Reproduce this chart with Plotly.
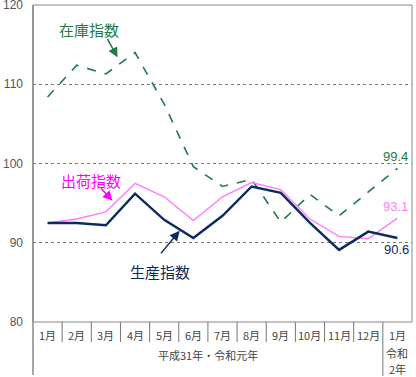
import plotly.graph_objects as go

months = ["1月", "2月", "3月", "4月", "5月", "6月", "7月", "8月", "9月", "10月", "11月", "12月", "1月"]
inventory = [108.4, 112.4, 111.3, 114.0, 107.5, 99.6, 97.1, 98.0, 92.6, 96.1, 93.4, 96.4, 99.4]
shipments = [92.5, 93.0, 93.9, 97.5, 95.8, 92.8, 95.8, 97.6, 96.7, 93.0, 90.8, 90.5, 93.1]
production = [92.5, 92.5, 92.2, 96.2, 92.9, 90.6, 93.4, 97.1, 96.3, 92.5, 89.1, 91.4, 90.6]
y_ticks = [80, 90, 100, 110, 120]
year_label_1 = "平成31年・令和元年"
year_label_2 = ["令和", "2年"]

GREEN = "#1f7a44"
PINK = "#ff7cff"
MAGENTA = "#ff00ff"
NAVY = "#0b2a63"
FONT = "Noto Sans CJK JP"

xs = list(range(len(months)))

fig = go.Figure()
fig.add_trace(go.Scatter(x=xs, y=inventory, mode="lines",
                         line=dict(color=GREEN, width=1.6, dash="dash"), showlegend=False))
fig.add_trace(go.Scatter(x=xs, y=shipments, mode="lines",
                         line=dict(color=PINK, width=1.4), showlegend=False))
fig.add_trace(go.Scatter(x=xs, y=production, mode="lines",
                         line=dict(color=NAVY, width=2.4), showlegend=False))

fig.update_layout(
    width=416, height=377,
    margin=dict(l=33, r=4, t=5, b=55, autoexpand=False),
    paper_bgcolor="white", plot_bgcolor="white",
    font=dict(family=FONT, size=12, color="#444"),
    xaxis=dict(range=[-0.5, 12.5], showticklabels=False, showgrid=False, automargin=False,
               zeroline=False, showline=False, fixedrange=True),
    yaxis=dict(range=[80, 120], tickvals=y_ticks, ticks="", ticklabelstandoff=9,
               automargin=False, ticklabeloverflow="allow",
               showgrid=True, gridcolor="#777", griddash="dot", gridwidth=1,
               zeroline=False, showline=False,
               tickfont=dict(size=12, color="#555", family="Liberation Sans")),
)

shapes = []
# frame
shapes.append(dict(type="rect", xref="paper", yref="paper", x0=0, x1=1, y0=0, y1=1,
                   line=dict(color="#888", width=1)))
# left axis extension
shapes.append(dict(type="line", xref="paper", yref="paper", x0=0, x1=0, y0=-0.167, y1=1,
                   line=dict(color="#888", width=1.5)))
# category separators
for k in range(1, len(months)):
    bottom = -0.17 if k == len(months) - 1 else -0.063
    shapes.append(dict(type="line", xref="x", yref="paper", x0=k - 0.5, x1=k - 0.5,
                       y0=bottom, y1=0, line=dict(color="#777", width=1)))
fig.update_layout(shapes=shapes)

ann = []
for i, m in enumerate(months):
    ann.append(dict(x=i, y=-0.041, xref="x", yref="paper", text=m, showarrow=False,
                    yanchor="middle", font=dict(size=11, color="#444")))
ann.append(dict(x=5.5, y=-0.104, xref="x", yref="paper", text=year_label_1, showarrow=False,
                yanchor="middle", font=dict(size=11, color="#444")))
ann.append(dict(x=12, y=-0.098, xref="x", yref="paper", text=year_label_2[0], showarrow=False,
                yanchor="middle", font=dict(size=11, color="#444")))
ann.append(dict(x=12, y=-0.148, xref="x", yref="paper", text=year_label_2[1], showarrow=False,
                yanchor="middle", font=dict(size=11, color="#444")))

# series name labels
ann.append(dict(x=1.43, y=116.9, xref="x", yref="y", text="在庫指数", showarrow=False,
                yanchor="middle", font=dict(size=15, color=GREEN)))
ann.append(dict(x=1.5, y=97.8, xref="x", yref="y", text="出荷指数", showarrow=False,
                yanchor="middle", font=dict(size=15, color=MAGENTA)))
ann.append(dict(x=3.84, y=86.4, xref="x", yref="y", text="生産指数", showarrow=False,
                yanchor="middle", font=dict(size=15, color=NAVY)))
# arrows
ann.append(dict(x=2.40, y=113.4, xref="x", yref="y", text="", showarrow=True,
                ax=-11, ay=-20, arrowhead=2, arrowsize=1.3, arrowwidth=1.5, arrowcolor=GREEN))
ann.append(dict(x=2.23, y=95.3, xref="x", yref="y", text="", showarrow=True,
                ax=-13, ay=-14, arrowhead=2, arrowsize=1.3, arrowwidth=1.5, arrowcolor=MAGENTA))
ann.append(dict(x=4.53, y=91.5, xref="x", yref="y", text="", showarrow=True,
                ax=-20, ay=24, arrowhead=2, arrowsize=1.3, arrowwidth=1.5, arrowcolor=NAVY))
# end value labels
ann.append(dict(x=12, y=inventory[-1], xref="x", yref="y", text=f"{inventory[-1]:.1f}",
                showarrow=False, yshift=12, xshift=-2, yanchor="middle",
                font=dict(size=13, color=GREEN, family="Liberation Sans")))
ann.append(dict(x=12, y=shipments[-1], xref="x", yref="y", text=f"{shipments[-1]:.1f}",
                showarrow=False, yshift=12, xshift=-2, yanchor="middle",
                font=dict(size=13, color=PINK, family="Liberation Sans")))
ann.append(dict(x=12, y=production[-1], xref="x", yref="y", text=f"{production[-1]:.1f}",
                showarrow=False, yshift=-11, xshift=-1, yanchor="middle",
                font=dict(size=13, color=NAVY, family="Liberation Sans")))
fig.update_layout(annotations=ann)

fig.write_html("out.html", config={"displayModeBar": False},
               post_script="document.body.style.margin='0';document.body.style.padding='0';")
